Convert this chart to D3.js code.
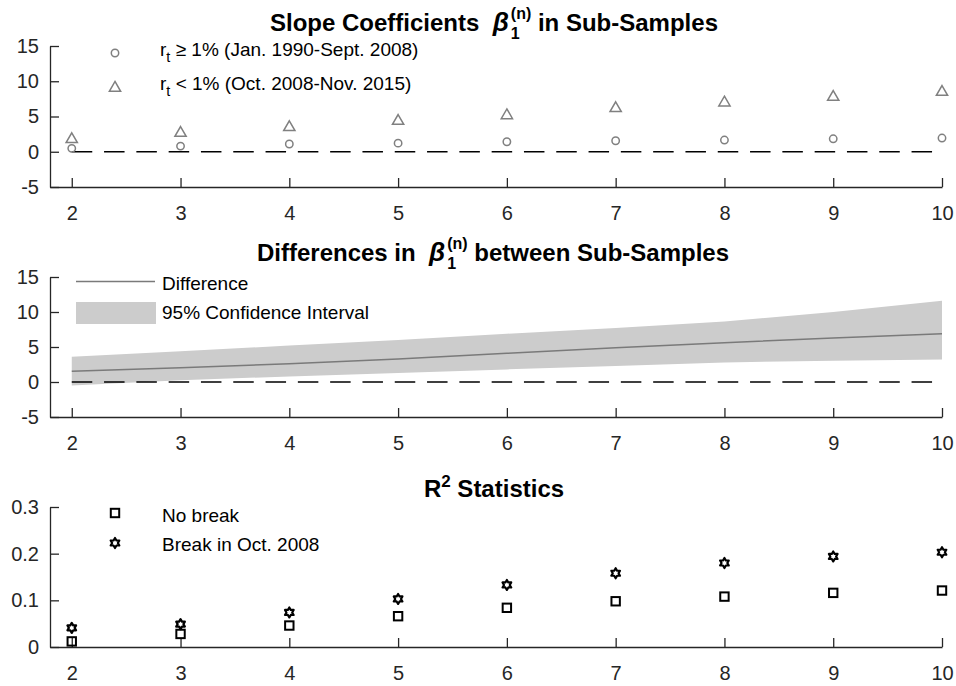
<!DOCTYPE html>
<html><head><meta charset="utf-8">
<script src="https://cdn.jsdelivr.net/npm/d3@7"></script>
<style>body{margin:0;background:#fff}svg{display:block}text{font-family:"Liberation Sans",Arial,sans-serif;white-space:pre}</style>
</head><body><svg id="c" width="956" height="686"></svg>
<script>
const horizons = [2,3,4,5,6,7,8,9,10];
const xTicks = [2,3,4,5,6,7,8,9,10];
const betaHigh = [0.48,0.8,1.1,1.22,1.42,1.56,1.66,1.84,1.94];
const betaLow = [1.9,2.8,3.6,4.5,5.3,6.3,7.1,7.9,8.6];
const diffVals = [1.55,2.05,2.6,3.3,4.1,4.9,5.6,6.3,6.9];
const ciUpper = [3.6,4.4,5.2,6.0,6.9,7.7,8.65,10.0,11.6];
const ciLower = [-0.5,0.25,0.8,1.3,1.8,2.3,2.8,3.05,3.2];
const r2NoBreak = [0.012,0.028,0.046,0.066,0.084,0.098,0.108,0.116,0.121];
const r2Break = [0.041,0.049,0.074,0.103,0.133,0.158,0.180,0.194,0.203];
const yTicksBeta = [-5,0,5,10,15];
const yTicksR2 = [0,0.1,0.2,0.3];
const legend1 = ["r","t","\u00a0\u2265 1% (Jan. 1990-Sept. 2008)","\u00a0< 1% (Oct. 2008-Nov. 2015)"];
const legend2 = ["Difference","95% Confidence Interval"];
const legend3 = ["No break","Break in Oct. 2008"];

const svg = d3.select("#c");
const AX = "#262626";
const L = 50, R = 942;
const x = d3.scaleLinear().domain([1.8,10]).range([L,R]);

function axes(top, bottom, domain, ticks, fmt){
  const y = d3.scaleLinear().domain(domain).range([bottom, top]);
  const g = svg.append("g");
  const gx = g.append("g").attr("transform",`translate(0,${bottom})`)
    .call(d3.axisBottom(x).tickValues(xTicks).tickSizeInner(-9).tickSizeOuter(0).tickPadding(15).tickFormat(d=>String(d)));
  const gy = g.append("g").attr("transform",`translate(${L},0)`)
    .call(d3.axisLeft(y).tickValues(ticks).tickSizeInner(-9).tickSizeOuter(0).tickPadding(11).tickFormat(fmt));
  [gx,gy].forEach(a=>{
    a.select(".domain").attr("stroke",AX).attr("stroke-width",1.3);
    a.selectAll(".tick line").attr("stroke",AX).attr("stroke-width",1.3);
    a.selectAll(".tick text").attr("fill",AX).attr("font-size",20).attr("font-family","Liberation Sans, Arial, sans-serif");
  });
  gx.selectAll(".tick text").attr("dy","0.9em");
  return y;
}

function title(cx, baseline, before, after){
  const g = svg.append("g");
  const fs = 24;
  const t1 = g.append("text").attr("font-size",fs).attr("font-weight","bold").attr("fill","#000").text(before);
  const w1 = t1.node().getComputedTextLength();
  const beta = g.append("text").attr("font-size",fs+2).attr("font-style","italic").attr("font-weight","bold")
    .attr("font-family","Liberation Serif, Times New Roman, serif").attr("fill","#000").text("\u03b2");
  const wb = beta.node().getComputedTextLength();
  const sup = g.append("text").attr("font-size",16).attr("font-weight","bold").attr("fill","#000").text("(n)");
  const sub = g.append("text").attr("font-size",16).attr("font-weight","bold").attr("fill","#000").text("1");
  const ws = Math.max(sup.node().getComputedTextLength(), sub.node().getComputedTextLength());
  const t2 = g.append("text").attr("font-size",fs).attr("font-weight","bold").attr("fill","#000").text(after);
  const w2 = t2.node().getComputedTextLength();
  const w = w1 + wb + 2 + ws + w2;
  let xs = cx - w/2;
  t1.attr("x",xs).attr("y",baseline); xs += w1;
  beta.attr("x",xs).attr("y",baseline); xs += wb+2;
  sup.attr("x",xs).attr("y",baseline-12);
  sub.attr("x",xs).attr("y",baseline+8);
  xs += ws;
  t2.attr("x",xs).attr("y",baseline);
  return g;
}

const grey = "#808080";
const tri = d3.symbol().type(d3.symbolTriangle).size(55);

// ---------- Panel 1
const y1 = axes(46,187,[-5,15],yTicksBeta,d=>String(d));
svg.append("line").attr("x1",x(2)).attr("x2",x(10)).attr("y1",y1(0)).attr("y2",y1(0))
  .attr("stroke","#000").attr("stroke-width",1.6).attr("stroke-dasharray","20.5,11.8");
svg.append("g").selectAll("circle").data(horizons).join("circle")
  .attr("cx",d=>x(d)).attr("cy",(d,i)=>y1(betaHigh[i])).attr("r",3.7)
  .attr("fill","none").attr("stroke",grey).attr("stroke-width",1.5);
svg.append("g").selectAll("path").data(horizons).join("path")
  .attr("d",tri).attr("transform",(d,i)=>`translate(${x(d)},${y1(betaLow[i])+1})`)
  .attr("fill","none").attr("stroke",grey).attr("stroke-width",1.5);
title(494,31,"Slope Coefficients\u00a0\u00a0", "\u00a0in Sub-Samples");
svg.append("circle").attr("cx",115).attr("cy",53).attr("r",3.7).attr("fill","none").attr("stroke",grey).attr("stroke-width",1.5);
svg.append("path").attr("d",tri).attr("transform","translate(115,88)").attr("fill","none").attr("stroke",grey).attr("stroke-width",1.5);
[[56,legend1[2]],[90,legend1[3]]].forEach(([yb,txt])=>{
  const t = svg.append("text").attr("x",160).attr("y",yb).attr("font-size",19).attr("fill","#000");
  t.append("tspan").text(legend1[0]);
  t.append("tspan").attr("font-size",14.5).attr("dy",6).text(legend1[1]);
  t.append("tspan").attr("dy",-6).text(txt);
});

// ---------- Panel 2
const y2 = axes(277,417,[-5,15],yTicksBeta,d=>String(d));
const area = d3.area().x(d=>x(d.h)).y0(d=>y2(d.lo)).y1(d=>y2(d.hi));
const ciData = horizons.map((h,i)=>({h,lo:ciLower[i],hi:ciUpper[i]}));
svg.append("path").datum(ciData).attr("d",area).attr("fill","#cccccc");
svg.append("path").datum(horizons.map((h,i)=>({h,v:diffVals[i]})))
  .attr("d",d3.line().x(d=>x(d.h)).y(d=>y2(d.v))).attr("fill","none").attr("stroke","#7a7a7a").attr("stroke-width",1.5);
svg.append("line").attr("x1",x(2)).attr("x2",x(10)).attr("y1",y2(0)).attr("y2",y2(0))
  .attr("stroke","#000").attr("stroke-width",1.6).attr("stroke-dasharray","20.5,11.8");
title(493,261,"Differences in\u00a0\u00a0", "\u00a0between Sub-Samples");
svg.append("line").attr("x1",76).attr("x2",155).attr("y1",281.5).attr("y2",281.5).attr("stroke","#7a7a7a").attr("stroke-width",1.3);
svg.append("rect").attr("x",76).attr("y",302).attr("width",80).attr("height",22).attr("fill","#cccccc");
svg.append("text").attr("x",162).attr("y",290).attr("font-size",19).attr("fill","#000").text(legend2[0]);
svg.append("text").attr("x",162).attr("y",318.5).attr("font-size",19).attr("fill","#000").text(legend2[1]);

// ---------- Panel 3
const y3 = axes(507,647,[0,0.3],yTicksR2,d=>d===0?"0":d.toFixed(1));
function hexagram(s){
  const p=[];
  for(let k=0;k<12;k++){
    const a = -Math.PI/2 + k*Math.PI/6;
    const r = (k%2===0)? s : s*0.577;
    p.push([r*Math.cos(a), r*Math.sin(a)]);
  }
  return "M"+p.map(q=>q[0].toFixed(2)+","+q[1].toFixed(2)).join("L")+"Z";
}
const hex = hexagram(5);
svg.append("g").selectAll("rect").data(horizons).join("rect")
  .attr("x",d=>x(d)-4.2).attr("y",(d,i)=>y3(r2NoBreak[i])-4.2).attr("width",8.4).attr("height",8.4)
  .attr("fill","none").attr("stroke","#000").attr("stroke-width",2);
svg.append("g").selectAll("path").data(horizons).join("path")
  .attr("d",hex).attr("transform",(d,i)=>`translate(${x(d)},${y3(r2Break[i])})`)
  .attr("fill","none").attr("stroke","#000").attr("stroke-width",2.2).attr("stroke-linejoin","round");
(function(){
  const t = svg.append("text").attr("y",497).attr("font-size",24).attr("font-weight","bold").attr("fill","#000").attr("x",494).attr("text-anchor","middle");
  t.append("tspan").text("R");
  t.append("tspan").attr("font-size",17).attr("dy",-10).text("2");
  t.append("tspan").attr("dy",10).text("\u00a0Statistics");
})();
svg.append("rect").attr("x",115-4.2).attr("y",513-4.2).attr("width",8.4).attr("height",8.4).attr("fill","none").attr("stroke","#000").attr("stroke-width",2);
svg.append("path").attr("d",hex).attr("transform","translate(115,543)").attr("fill","none").attr("stroke","#000").attr("stroke-width",2.2).attr("stroke-linejoin","round");
svg.append("text").attr("x",162).attr("y",521.5).attr("font-size",19).attr("fill","#000").text(legend3[0]);
svg.append("text").attr("x",162).attr("y",550.5).attr("font-size",19).attr("fill","#000").text(legend3[1]);
</script></body></html>
